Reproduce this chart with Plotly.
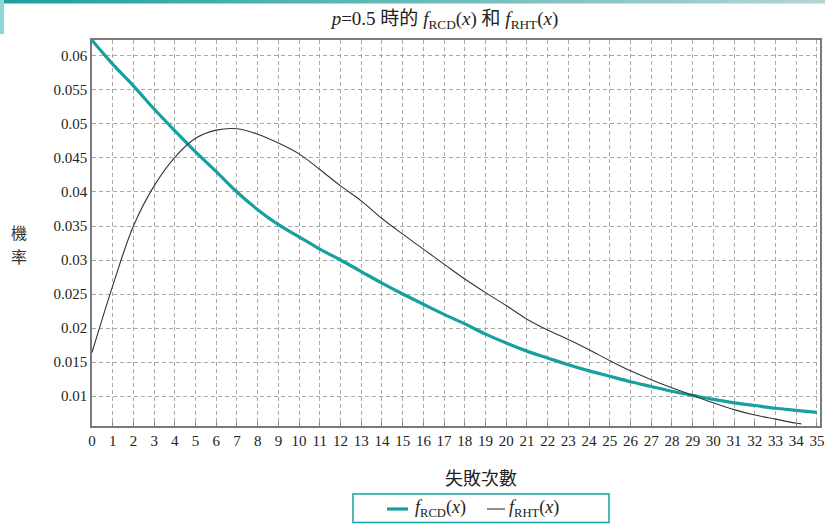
import plotly.graph_objects as go

# Number of failures (x) and the two probability functions at p = 0.5
x_fail = list(range(36))
f_rcd = [0.0623, 0.0588, 0.0556, 0.0522, 0.0490, 0.0459, 0.0430, 0.0400, 0.0374,
         0.0352, 0.0334, 0.0316, 0.0300, 0.0283, 0.0266, 0.0250, 0.0235, 0.0220,
         0.0206, 0.0191, 0.0178, 0.0166, 0.0156, 0.0146, 0.0137, 0.0129, 0.0121,
         0.0114, 0.0107, 0.0101, 0.0095, 0.0090, 0.0086, 0.0082, 0.0079, 0.0076]

x_rht = list(range(35)) + [34.25]
f_rht = [0.0164, 0.0262, 0.0350, 0.0409, 0.0451, 0.0479, 0.0491, 0.0493, 0.0485,
         0.0472, 0.0456, 0.0433, 0.0409, 0.0387, 0.0361, 0.0338, 0.0316, 0.0294,
         0.0272, 0.0252, 0.0233, 0.0213, 0.0197, 0.0183, 0.0168, 0.0152, 0.0137,
         0.0124, 0.0112, 0.0101, 0.0090, 0.0080, 0.0072, 0.0066, 0.0060, 0.0059]

y_tick_vals = [0.01, 0.015, 0.02, 0.025, 0.03, 0.035, 0.04, 0.045, 0.05, 0.055, 0.06]
y_tick_text = ["0.01", "0.015", "0.02", "0.025", "0.03", "0.035", "0.04", "0.045",
               "0.05", "0.055", "0.06"]
x_tick_vals = list(range(36))
x_tick_text = [str(v) for v in x_tick_vals]

series_names = ["<i>f</i><sub>RCD</sub>(<i>x</i>)", "<i>f</i><sub>RHT</sub>(<i>x</i>)"]

W, H = 825, 524
ML, MR, MT, MB = 92, 5, 40, 98
PW, PH = W - ML - MR, H - MT - MB

TEAL = "#17a0a0"
DARK = "#333333"
SERIF = "Liberation Serif, Times New Roman, serif"
CJK = "Noto Sans CJK TC, Noto Sans CJK SC, sans-serif"


def px_x(px):
    return (px - ML) / PW


def px_y(py):
    return (H - MB - py) / PH


fig = go.Figure()
fig.add_trace(go.Scatter(
    x=x_fail, y=f_rcd, mode="lines", line=dict(color=TEAL, width=3.2, shape="spline"),
    name=series_names[0], showlegend=False))
fig.add_trace(go.Scatter(
    x=x_rht, y=f_rht, mode="lines", line=dict(color=DARK, width=1.1, shape="spline"),
    name=series_names[1], showlegend=False))

axis_common = dict(showline=True, linecolor="#7a7a7a", linewidth=1.5, mirror=True,
                   showgrid=True, gridcolor="#a8a8a8", gridwidth=1, griddash="4px,3px",
                   zeroline=False,
                   tickfont=dict(family=SERIF, size=15, color="#222222"))

fig.update_xaxes(range=[0, 35.15], tickmode="array", tickvals=x_tick_vals,
                 ticktext=x_tick_text, ticks="inside", ticklen=4, tickcolor="#888888",
                 **axis_common)
fig.update_yaxes(range=[0.00559, 0.06235], tickmode="array", tickvals=y_tick_vals,
                 ticktext=y_tick_text, ticks="", **axis_common)

# Decorative header strip with a teal gradient, and a short bar on the left edge
shapes = []
n_steps = 60
c0, c1 = (28, 160, 160), (178, 212, 212)
for i in range(n_steps):
    t = i / (n_steps - 1)
    col = tuple(round(a + (b - a) * t) for a, b in zip(c0, c1))
    shapes.append(dict(type="rect", xref="paper", yref="paper",
                       x0=px_x(W * i / n_steps), x1=px_x(W * (i + 1) / n_steps + 0.5),
                       y0=px_y(3.5), y1=px_y(0), line=dict(width=0),
                       fillcolor="rgb(%d,%d,%d)" % col))
shapes.append(dict(type="rect", xref="paper", yref="paper",
                   x0=px_x(0), x1=px_x(4), y0=px_y(34), y1=px_y(0),
                   line=dict(width=0), fillcolor="#8fd6d6"))

# Legend box below the x-axis title
shapes.append(dict(type="rect", xref="paper", yref="paper",
                   x0=px_x(353), x1=px_x(609), y0=px_y(522.5), y1=px_y(494),
                   line=dict(color=TEAL, width=1.5), fillcolor="white"))
legend_y = px_y(509)
shapes.append(dict(type="line", xref="paper", yref="paper",
                   x0=px_x(387), x1=px_x(408), y0=legend_y, y1=legend_y,
                   line=dict(color=TEAL, width=3.2)))
shapes.append(dict(type="line", xref="paper", yref="paper",
                   x0=px_x(487), x1=px_x(505), y0=legend_y, y1=legend_y,
                   line=dict(color=DARK, width=1.1)))

annotations = [
    dict(text="機", xref="paper", yref="paper", x=px_x(19), y=px_y(232),
         showarrow=False, font=dict(family=CJK, size=16, color="#333333"),
         xanchor="center", yanchor="middle", borderpad=0),
    dict(text="率", xref="paper", yref="paper", x=px_x(19), y=px_y(256),
         showarrow=False, font=dict(family=CJK, size=16, color="#333333"),
         xanchor="center", yanchor="middle", borderpad=0),
    dict(text="失敗次數", xref="paper", yref="paper", x=px_x(481), y=px_y(477),
         showarrow=False, font=dict(family=CJK, size=18, color="#222222"),
         xanchor="center", yanchor="middle"),
    dict(text=series_names[0], xref="paper", yref="paper", x=px_x(413), y=legend_y,
         showarrow=False, font=dict(family=SERIF, size=18, color="#222222"),
         xanchor="left", yanchor="middle"),
    dict(text=series_names[1], xref="paper", yref="paper", x=px_x(507), y=legend_y,
         showarrow=False, font=dict(family=SERIF, size=18, color="#222222"),
         xanchor="left", yanchor="middle"),
]

fig.update_layout(
    width=W, height=H,
    margin=dict(l=ML, r=MR, t=MT, b=MB, autoexpand=False),
    paper_bgcolor="white", plot_bgcolor="white",
    title=dict(text="<i>p</i>=0.5 時的 <i>f</i><sub>RCD</sub>(<i>x</i>) 和 "
                    "<i>f</i><sub>RHT</sub>(<i>x</i>)",
               x=445 / W, xanchor="center", y=1 - 18 / H, yanchor="middle",
               font=dict(family="Liberation Serif, Noto Sans CJK TC, serif", size=19,
                         color="#222222")),
    showlegend=False,
    shapes=shapes,
    annotations=annotations,
)

fig.write_html("out.html")
